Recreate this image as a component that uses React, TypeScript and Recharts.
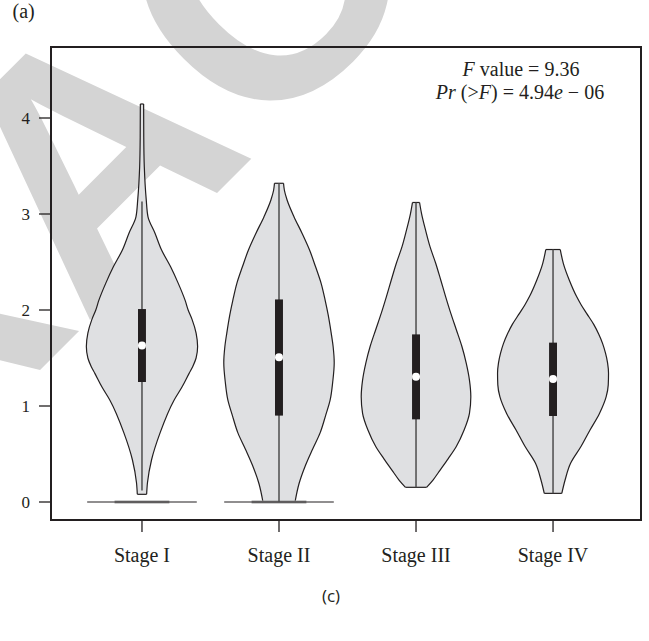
import React from "react";
import {
  ComposedChart,
  Area,
  XAxis,
  YAxis,
  ReferenceArea,
  ReferenceLine,
  ReferenceDot,
} from "recharts";

const stages = ["Stage I", "Stage II", "Stage III", "Stage IV"];
const stagePositions = [1, 2, 3, 4];
const yTicks = [0, 1, 2, 3, 4];
const xDomain = [0.336, 4.642];
const yDomain = [-0.1875, 4.7396];

// violin outlines: [value, half width]
const stage1Profile = [
  [0.08, 0.034], [0.2, 0.04], [0.44, 0.07], [0.72, 0.132], [1.06, 0.234],
  [1.2, 0.293], [1.34, 0.344], [1.41, 0.37], [1.5, 0.395], [1.62, 0.406],
  [1.76, 0.395], [1.9, 0.366], [2.0, 0.337], [2.1, 0.315], [2.28, 0.264],
  [2.45, 0.209], [2.625, 0.143], [2.8, 0.095], [2.97, 0.044], [3.15, 0.031],
  [3.49, 0.017], [3.8, 0.013], [4.146, 0.012],
];
const stage2Profile = [
  [0, 0.117], [0.19, 0.146], [0.37, 0.19], [0.55, 0.245], [0.72, 0.3],
  [0.9, 0.34], [1.06, 0.373], [1.25, 0.392], [1.45, 0.403], [1.62, 0.395],
  [1.76, 0.381], [1.95, 0.359], [2.1, 0.337], [2.28, 0.307], [2.45, 0.267],
  [2.625, 0.223], [2.8, 0.168], [2.97, 0.11], [3.146, 0.059], [3.25, 0.039],
  [3.32, 0.033],
];
const stage3Profile = [
  [0.153, 0.077], [0.229, 0.124], [0.333, 0.176], [0.45, 0.234], [0.576, 0.293],
  [0.75, 0.351], [0.924, 0.39], [1.097, 0.4], [1.27, 0.39], [1.45, 0.366],
  [1.62, 0.335], [1.8, 0.293], [1.965, 0.254], [2.14, 0.216], [2.31, 0.181],
  [2.49, 0.143], [2.66, 0.102], [2.83, 0.07], [3.007, 0.04], [3.12, 0.026],
];
const stage4Profile = [
  [0.09, 0.064], [0.229, 0.088], [0.403, 0.128], [0.58, 0.205], [0.75, 0.27],
  [0.92, 0.338], [1.097, 0.388], [1.22, 0.403], [1.34, 0.405], [1.45, 0.398],
  [1.55, 0.383], [1.65, 0.362], [1.75, 0.333], [1.85, 0.297], [1.965, 0.245],
  [2.05, 0.207], [2.14, 0.172], [2.31, 0.119], [2.486, 0.075], [2.63, 0.053],
];
const profiles = [stage1Profile, stage2Profile, stage3Profile, stage4Profile];

const whiskerLow = [0.12, 0, 0.153, 0.09];
const whiskerHigh = [3.13, 3.32, 3.12, 2.63];
const q1 = [1.25, 0.9, 0.861, 0.896];
const q3 = [2.01, 2.11, 1.746, 1.66];
const medians = [1.63, 1.507, 1.305, 1.28];

// stages with a pile of zeros drawn as a flat line at 0
const zeroStages = [1, 2];
const zeroHalfWidth = 0.4;

const fValue = "9.36";
const pValue = "4.94";
const pExponent = "06";

const ink = "#231f20";
const serif = '"Liberation Serif", "Times New Roman", serif';
const boxHalf = 0.029;

function violinData(i: number) {
  const c = stagePositions[i];
  return profiles[i].map(([y, w]) => ({ y, v: [c - w, c + w] }));
}

function Watermark() {
  return (
    <svg width={649} height={641} style={{ position: "absolute", left: 0, top: 0 }}>
      <g
        transform="translate(84,326) rotate(-45)"
        fill="#d4d4d4"
        fontFamily='"Liberation Sans", Arial, sans-serif'
        fontWeight="bold"
        fontSize={340}
      >
        <text x={0} y={0} textAnchor="end">RETR</text>
        <text x={0} y={0}>ACTED</text>
      </g>
    </svg>
  );
}

function Labels() {
  return (
    <svg
      width={649}
      height={641}
      style={{ position: "absolute", left: 0, top: 0, pointerEvents: "none" }}
    >
      <text x={12.5} y={18} fontFamily={serif} fontSize={20} fill={ink}>(a)</text>
      <text x={521} y={76} textAnchor="middle" fontFamily={serif} fontSize={20} fill={ink}>
        <tspan fontStyle="italic">F</tspan> value = {fValue}
      </text>
      <text x={520} y={99} textAnchor="middle" fontFamily={serif} fontSize={20} fill={ink}>
        <tspan fontStyle="italic">Pr</tspan> (&gt;<tspan fontStyle="italic">F</tspan>) = {pValue}
        <tspan fontStyle="italic">e</tspan> − {pExponent}
      </text>
      <text
        x={331}
        y={602}
        textAnchor="middle"
        fontFamily='"Open Sans", sans-serif'
        fontSize={17}
        fill={ink}
      >
        (c)
      </text>
    </svg>
  );
}

export default function App() {
  return (
    <div
      style={{
        position: "absolute",
        left: 0,
        top: 0,
        width: 649,
        height: 641,
        background: "#fff",
      }}
    >
      <Watermark />
      <div style={{ position: "absolute", left: 0, top: 0 }}>
        <ComposedChart
          width={649}
          height={641}
          layout="vertical"
          margin={{ top: 47, right: 8, bottom: 0, left: 0 }}
        >
          <XAxis
            type="number"
            domain={xDomain}
            allowDataOverflow
            ticks={stagePositions}
            tickFormatter={(v: number) => stages[v - 1]}
            height={121}
            axisLine={false}
            tickSize={12}
            tickMargin={16}
            tickLine={{ stroke: ink, strokeWidth: 1.3 }}
            tick={{ fill: ink, fontSize: 20, fontFamily: serif }}
          />
          <YAxis
            type="number"
            dataKey="y"
            domain={yDomain}
            reversed
            allowDataOverflow
            ticks={yTicks}
            width={51}
            axisLine={false}
            tickSize={12}
            tickMargin={9}
            tickLine={{ stroke: ink, strokeWidth: 1.3 }}
            tick={{ fill: ink, fontSize: 17, fontFamily: serif }}
          />

          {profiles.map((_, i) => (
            <Area
              key={`violin-${i}`}
              data={violinData(i)}
              dataKey="v"
              type="monotone"
              fill="#dfe0e2"
              fillOpacity={1}
              stroke={ink}
              strokeWidth={1.2}
              dot={false}
              activeDot={false}
              isAnimationActive={false}
              zIndex={100}
            />
          ))}

          {profiles.map((p, i) => {
            const c = stagePositions[i];
            const ends = [p[0], p[p.length - 1]];
            return ends.map(([y, w], j) => (
              <ReferenceLine
                key={`cap-${i}-${j}`}
                segment={[{ x: c - w, y }, { x: c + w, y }]}
                stroke={ink}
                strokeWidth={1.2}
                ifOverflow="visible"
                zIndex={410}
              />
            ));
          })}

          {zeroStages.map((s) => (
            <ReferenceLine
              key={`zero-under-${s}`}
              segment={[{ x: s - zeroHalfWidth / 2, y: 0 }, { x: s + zeroHalfWidth / 2, y: 0 }]}
              stroke="#9d9d9d"
              strokeWidth={3}
              ifOverflow="visible"
              zIndex={410}
            />
          ))}
          {zeroStages.map((s) => (
            <ReferenceLine
              key={`zero-${s}`}
              segment={[{ x: s - zeroHalfWidth, y: 0 }, { x: s + zeroHalfWidth, y: 0 }]}
              stroke={ink}
              strokeWidth={1.2}
              ifOverflow="visible"
              zIndex={411}
            />
          ))}

          {stagePositions.map((c, i) => (
            <ReferenceLine
              key={`whisker-${i}`}
              segment={[{ x: c, y: whiskerLow[i] }, { x: c, y: whiskerHigh[i] }]}
              stroke="#4d4d4d"
              strokeWidth={1.5}
              ifOverflow="visible"
              zIndex={412}
            />
          ))}

          {stagePositions.map((c, i) => (
            <ReferenceArea
              key={`box-${i}`}
              x1={c - boxHalf}
              x2={c + boxHalf}
              y1={q1[i]}
              y2={q3[i]}
              fill={ink}
              fillOpacity={1}
              stroke="none"
              ifOverflow="visible"
              zIndex={450}
            />
          ))}

          {stagePositions.map((c, i) => (
            <ReferenceDot
              key={`median-${i}`}
              x={c}
              y={medians[i]}
              r={4}
              fill="#ffffff"
              stroke="none"
              ifOverflow="visible"
              zIndex={600}
            />
          ))}

          <ReferenceArea
            x1={xDomain[0]}
            x2={xDomain[1]}
            y1={yDomain[0]}
            y2={yDomain[1]}
            fill="none"
            stroke={ink}
            strokeWidth={2}
            ifOverflow="visible"
            zIndex={700}
          />
        </ComposedChart>
      </div>
      <Labels />
    </div>
  );
}
